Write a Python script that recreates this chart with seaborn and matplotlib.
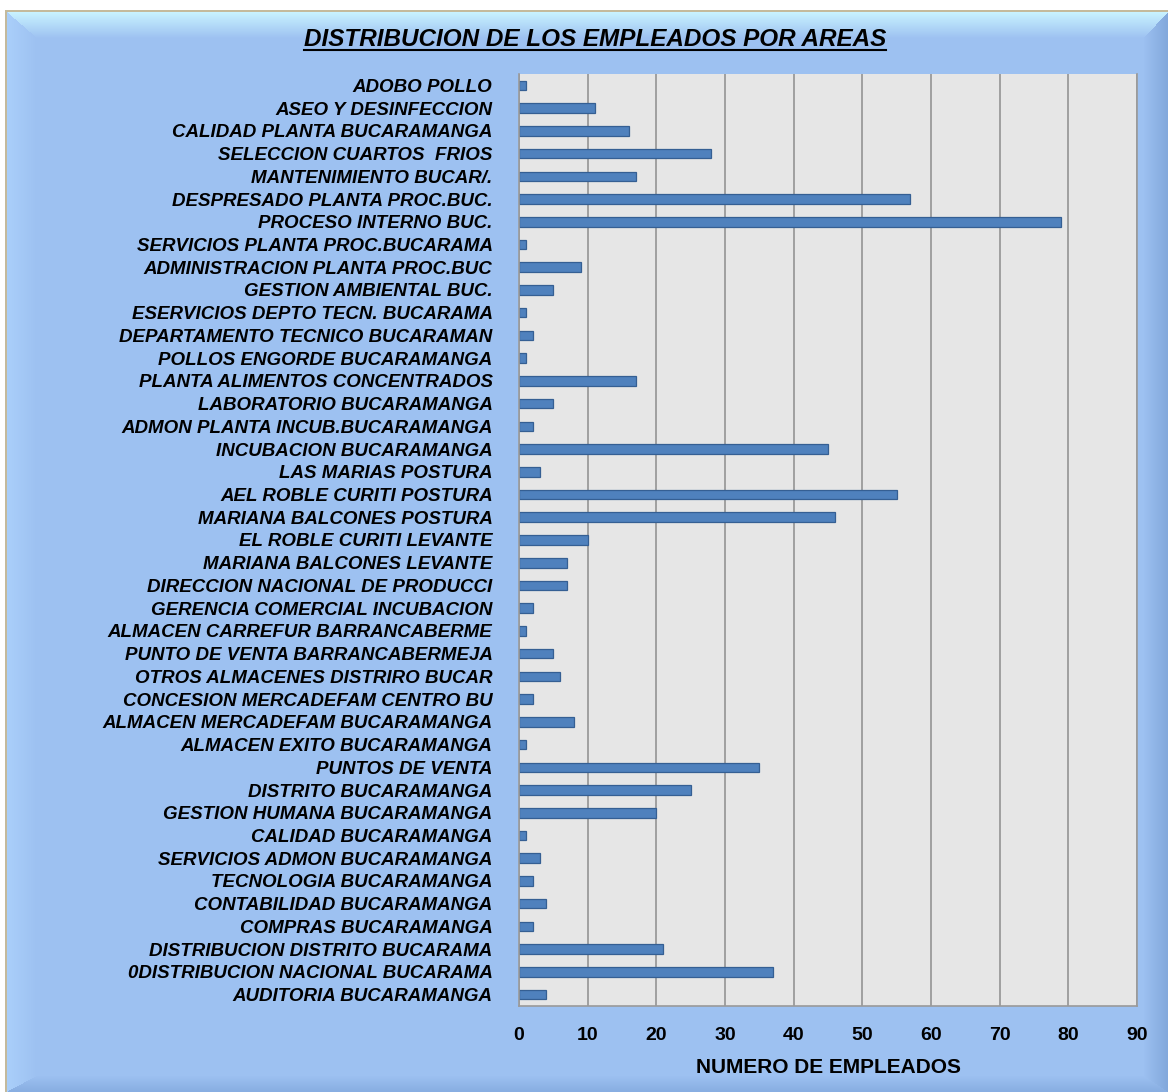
import numpy as np
import pandas as pd
import matplotlib
matplotlib.use("Agg")
import matplotlib.pyplot as plt
from matplotlib.lines import Line2D
import seaborn as sns

# ---------------- data ----------------
areas = [
    "ADOBO POLLO",
    "ASEO Y DESINFECCION",
    "CALIDAD PLANTA BUCARAMANGA",
    "SELECCION CUARTOS  FRIOS",
    "MANTENIMIENTO BUCAR/.",
    "DESPRESADO PLANTA PROC.BUC.",
    "PROCESO INTERNO BUC.",
    "SERVICIOS PLANTA PROC.BUCARAMA",
    "ADMINISTRACION PLANTA PROC.BUC",
    "GESTION AMBIENTAL BUC.",
    "ESERVICIOS DEPTO TECN. BUCARAMA",
    "DEPARTAMENTO TECNICO BUCARAMAN",
    "POLLOS ENGORDE BUCARAMANGA",
    "PLANTA ALIMENTOS CONCENTRADOS",
    "LABORATORIO BUCARAMANGA",
    "ADMON PLANTA INCUB.BUCARAMANGA",
    "INCUBACION BUCARAMANGA",
    "LAS MARIAS POSTURA",
    "AEL ROBLE CURITI POSTURA",
    "MARIANA BALCONES POSTURA",
    "EL ROBLE CURITI LEVANTE",
    "MARIANA BALCONES LEVANTE",
    "DIRECCION NACIONAL DE PRODUCCI",
    "GERENCIA COMERCIAL INCUBACION",
    "ALMACEN CARREFUR BARRANCABERME",
    "PUNTO DE VENTA BARRANCABERMEJA",
    "OTROS ALMACENES DISTRIRO BUCAR",
    "CONCESION MERCADEFAM CENTRO BU",
    "ALMACEN MERCADEFAM BUCARAMANGA",
    "ALMACEN EXITO BUCARAMANGA",
    "PUNTOS DE VENTA",
    "DISTRITO BUCARAMANGA",
    "GESTION HUMANA BUCARAMANGA",
    "CALIDAD BUCARAMANGA",
    "SERVICIOS ADMON BUCARAMANGA",
    "TECNOLOGIA BUCARAMANGA",
    "CONTABILIDAD BUCARAMANGA",
    "COMPRAS BUCARAMANGA",
    "DISTRIBUCION DISTRITO BUCARAMA",
    "0DISTRIBUCION NACIONAL BUCARAMA",
    "AUDITORIA BUCARAMANGA",
]
empleados = [1, 11, 16, 28, 17, 57, 79, 1, 9, 5, 1, 2, 1, 17, 5, 2, 45, 3, 55, 46,
             10, 7, 7, 2, 1, 5, 6, 2, 8, 1, 35, 25, 20, 1, 3, 2, 4, 2, 21, 37, 4]
x_ticks = [0, 10, 20, 30, 40, 50, 60, 70, 80, 90]

title = "DISTRIBUCION DE LOS EMPLEADOS POR AREAS"
x_label = "NUMERO DE EMPLEADOS"

df = pd.DataFrame({"area": areas, "empleados": empleados})

# ---------------- figure ----------------
plt.rcParams["font.family"] = ["Liberation Sans", "DejaVu Sans"]
W, H = 1168, 1092
fig = plt.figure(figsize=(W / 100, H / 100), dpi=100, facecolor="white")

# background panel with bevel
yy, xx = np.mgrid[0:H, 0:W].astype(float)
img = np.ones((H, W, 3))
base = np.array([157, 193, 241]) / 255.0
edge_cols = [
    np.array([170, 207, 250]) / 255.0,  # left
    np.array([200, 242, 255]) / 255.0,  # top
    np.array([130, 168, 220]) / 255.0,  # right
    np.array([136, 174, 226]) / 255.0,  # bottom
]
x0, y0 = 7, 12
dists = np.stack([xx - x0, yy - y0, (W - 1) - xx, (H - 1) - yy])
widths = np.array([30, 26, 24, 16]).reshape(4, 1, 1)
near = np.argmin(dists / widths, axis=0)
d = np.take_along_axis(dists, near[None], axis=0)[0]
w = widths.reshape(4)[near]
t = np.clip(d / w, 0, 1)[..., None]
ec = np.stack(edge_cols)[near]
panel = ec * (1 - t) + base * t
inside = (xx >= x0) & (yy >= y0)
img[inside] = panel[inside]
border = np.array([196, 186, 156]) / 255.0
img[(yy >= y0 - 2) & (yy < y0) & (xx >= x0 - 2)] = border
img[(xx >= x0 - 2) & (xx < x0) & (yy >= y0 - 2)] = border

ax_bg = fig.add_axes([0, 0, 1, 1], zorder=0)
ax_bg.imshow(img, extent=(0, W, H, 0), aspect="auto", interpolation="nearest")
ax_bg.set_axis_off()

# main axes
ax = fig.add_axes([519 / W, 86 / H, 618 / W, 932 / H], zorder=1)
ax.set_facecolor("#E6E6E6")

sns.barplot(data=df, x="empleados", y="area", orient="h", color="#4F81BD",
            saturation=1, width=0.42, edgecolor="#355F93", linewidth=0.9, ax=ax)

ax.set_xlim(0, 90)
ax.set_xticks(x_ticks)
ax.set_xticklabels([str(v) for v in x_ticks])
ax.xaxis.grid(True, color="#8C8C8C", linewidth=1.1)
ax.yaxis.grid(False)
ax.set_axisbelow(True)

for s in ["left", "right", "bottom"]:
    ax.spines[s].set_color("#9A9A9A")
    ax.spines[s].set_linewidth(1.2)
ax.spines["top"].set_visible(False)

ax.tick_params(axis="y", length=0, pad=19)
ax.tick_params(axis="x", length=0, pad=15)
for lbl in ax.get_yticklabels():
    lbl.set_fontsize(13.5)
    lbl.set_fontweight("bold")
    lbl.set_fontstyle("italic")
for lbl in ax.get_xticklabels():
    lbl.set_fontsize(14)
    lbl.set_fontweight("bold")

ax.set_ylabel("")
ax.set_xlabel(x_label, fontsize=15, fontweight="bold")
ax.xaxis.set_label_coords(0.5, -0.0665)
ax.xaxis.label.set_va("center")

ttl = fig.text(595 / W, 1 - 40 / H, title, ha="center", va="center",
               fontsize=17.5, fontweight="bold", fontstyle="italic")

# underline the title
fig.canvas.draw()
bb = ttl.get_window_extent(renderer=fig.canvas.get_renderer())
uy = (bb.y0 + 2) / H
fig.add_artist(Line2D([bb.x0 / W, bb.x1 / W], [uy, uy], color="black",
                      linewidth=1.5, transform=fig.transFigure))

fig.savefig("out.png", dpi=100, facecolor="white")
